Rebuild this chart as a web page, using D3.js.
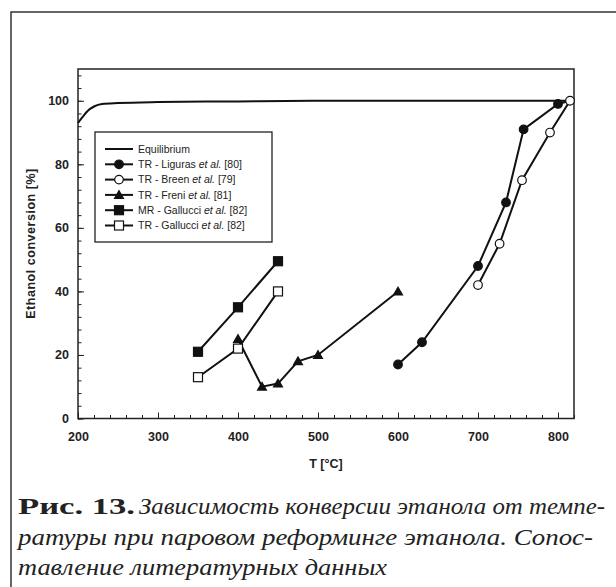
<!DOCTYPE html>
<html lang="ru">
<head>
  <meta charset="UTF-8">
  <script src="https://d3js.org/d3.v7.min.js"></script>
  <title>Ethanol conversion</title>
  <style>
    body { margin: 0; background: #fff; }
    .cap { font-family: "Liberation Serif", "Times New Roman", "DejaVu Serif Condensed", serif; font-stretch: condensed; }
  </style>
</head>
<body>
  <svg id="chart" width="616" height="587"></svg>
  <script>
    // data: [T in °C, conversion in %]
    const equilibrium = [[200, 93], [206, 95], [212, 96.8], [220, 98.2], [230, 99], [250, 99.3], [300, 99.6], [400, 99.8], [500, 100], [815, 100]];
    const liguras = [[600, 17], [630, 24], [700, 48], [735, 68], [757, 91], [800, 99], [815, 100]];
    const breen = [[700, 42], [727, 55], [755, 75], [790, 90], [815, 100]];
    const freni = [[400, 25], [430, 10], [450, 11], [475, 18], [500, 20], [600, 40]];
    const galucciMR = [[350, 21], [400, 35], [450, 49.5]];
    const galucciTR = [[350, 13], [400, 22], [450, 40]];

    const xTicks = [200, 300, 400, 500, 600, 700, 800];
    const yTicks = [0, 20, 40, 60, 80, 100];

    const legendItems = [
      { pre: 'Equilibrium', it: '', post: '', marker: 'none' },
      { pre: 'TR - Liguras ', it: 'et al.', post: ' [80]', marker: 'circleFill' },
      { pre: 'TR - Breen ', it: 'et al.', post: ' [79]', marker: 'circleOpen' },
      { pre: 'TR - Freni ', it: 'et al.', post: ' [81]', marker: 'triangle' },
      { pre: 'MR - Gallucci ', it: 'et al.', post: ' [82]', marker: 'squareFill' },
      { pre: 'TR - Gallucci ', it: 'et al.', post: ' [82]', marker: 'squareOpen' }
    ];

    const svg = d3.select('#chart');
    const m = { left: 78, right: 574, top: 69, bottom: 418.5 };

    const x = d3.scaleLinear().domain([200, 820]).range([m.left, m.right]);
    const y = d3.scaleLinear().domain([0, 110]).range([m.bottom, m.top]);

    // outer frame of the figure
    svg.append('rect')
      .attr('x', 11).attr('y', 12).attr('width', 620).attr('height', 600)
      .attr('fill', 'none').attr('stroke', '#333').attr('stroke-width', 1.5);

    const tickFont = g => g.selectAll('text')
      .attr('font-family', 'Liberation Sans, Arial, sans-serif')
      .attr('font-weight', 'bold').attr('font-size', 12.5).attr('fill', '#222');

    // minor ticks
    svg.append('g').attr('transform', `translate(0,${m.bottom})`)
      .call(d3.axisBottom(x).tickValues(d3.range(200, 821, 20)).tickSize(-3.5).tickFormat(''))
      .call(g => g.select('.domain').remove());
    svg.append('g').attr('transform', `translate(${m.left},0)`)
      .call(d3.axisLeft(y).tickValues(d3.range(0, 110, 4)).tickSize(-3.5).tickFormat(''))
      .call(g => g.select('.domain').remove());

    // major ticks + labels
    svg.append('g').attr('transform', `translate(0,${m.bottom})`)
      .call(d3.axisBottom(x).tickValues(xTicks).tickSize(-6).tickPadding(14))
      .call(g => g.select('.domain').remove())
      .call(tickFont);
    svg.append('g').attr('transform', `translate(${m.left},0)`)
      .call(d3.axisLeft(y).tickValues(yTicks).tickSize(-6).tickPadding(9))
      .call(g => g.select('.domain').remove())
      .call(tickFont);

    svg.selectAll('.tick line').attr('stroke', '#222').attr('stroke-width', 1);

    // plot frame
    svg.append('rect')
      .attr('x', m.left).attr('y', m.top).attr('width', m.right - m.left).attr('height', m.bottom - m.top)
      .attr('fill', 'none').attr('stroke', '#222').attr('stroke-width', 1.5);

    // axis titles
    svg.append('text')
      .attr('x', (m.left + m.right) / 2).attr('y', 468)
      .attr('text-anchor', 'middle')
      .attr('font-family', 'Liberation Sans, Arial, sans-serif')
      .attr('font-weight', 'bold').attr('font-size', 12.5).attr('fill', '#222')
      .text('T [°C]');
    svg.append('text')
      .attr('transform', `translate(35,${(m.top + m.bottom) / 2}) rotate(-90)`)
      .attr('text-anchor', 'middle')
      .attr('font-family', 'Liberation Sans, Arial, sans-serif')
      .attr('font-weight', 'bold').attr('font-size', 12.5).attr('fill', '#222')
      .attr('textLength', 150).attr('lengthAdjust', 'spacing')
      .text('Ethanol conversion [%]');

    const line = d3.line().x(d => x(d[0])).y(d => y(d[1]));
    const curve = d3.line().x(d => x(d[0])).y(d => y(d[1])).curve(d3.curveMonotoneX);

    const drawMarker = (g, type, cx, cy) => {
      if (type === 'circleFill' || type === 'circleOpen') {
        g.append('circle').attr('cx', cx).attr('cy', cy).attr('r', 4.3)
          .attr('fill', type === 'circleFill' ? '#111' : '#fff')
          .attr('stroke', '#111').attr('stroke-width', 1.2);
      } else if (type === 'squareFill' || type === 'squareOpen') {
        g.append('rect').attr('x', cx - 4.5).attr('y', cy - 4.5).attr('width', 9).attr('height', 9)
          .attr('fill', type === 'squareFill' ? '#111' : '#fff')
          .attr('stroke', '#111').attr('stroke-width', 1.2);
      } else if (type === 'triangle') {
        g.append('path')
          .attr('d', `M${cx},${cy - 5.5}L${cx + 5.5},${cy + 4}L${cx - 5.5},${cy + 4}Z`)
          .attr('fill', '#111');
      }
    };

    const plot = svg.append('g');
    plot.append('path').attr('d', curve(equilibrium))
      .attr('fill', 'none').attr('stroke', '#111').attr('stroke-width', 2);

    const series = [
      { data: liguras, marker: 'circleFill', skipLast: true },
      { data: breen, marker: 'circleOpen' },
      { data: freni, marker: 'triangle' },
      { data: galucciMR, marker: 'squareFill' },
      { data: galucciTR, marker: 'squareOpen' }
    ];

    series.forEach(s => {
      plot.append('path').attr('d', line(s.data))
        .attr('fill', 'none').attr('stroke', '#111').attr('stroke-width', 2);
    });
    series.forEach(s => {
      const pts = s.skipLast ? s.data.slice(0, -1) : s.data;
      pts.forEach(d => drawMarker(plot, s.marker, x(d[0]), y(d[1])));
    });

    // legend
    const lg = svg.append('g');
    lg.append('rect').attr('x', 95).attr('y', 132).attr('width', 177).attr('height', 110)
      .attr('fill', '#fff').attr('stroke', '#222').attr('stroke-width', 1.3);
    legendItems.forEach((item, i) => {
      const cy = 149 + i * 15.3;
      lg.append('line').attr('x1', 105).attr('x2', 133).attr('y1', cy).attr('y2', cy)
        .attr('stroke', '#111').attr('stroke-width', 2);
      drawMarker(lg, item.marker, 119, cy);
      const t = lg.append('text').attr('x', 138).attr('y', cy + 3.8)
        .attr('font-family', 'Liberation Sans, Arial, sans-serif')
        .attr('font-size', 10.5).attr('fill', '#222');
      t.append('tspan').text(item.pre);
      if (item.it) {
        t.append('tspan').attr('font-style', 'italic').text(item.it);
        t.append('tspan').text(item.post);
      }
    });

    // caption
    svg.append('text').attr('class', 'cap').attr('x', 18).attr('y', 514)
      .attr('font-weight', 'bold').attr('font-size', 24).attr('fill', '#222')
      .attr('textLength', 117).attr('lengthAdjust', 'spacingAndGlyphs')
      .text('Рис. 13.');
    const captionLines = [
      { text: 'Зависимость конверсии этанола от темпе-', x: 139, y: 514, w: 466 },
      { text: 'ратуры при паровом реформинге этанола. Сопос-', x: 18, y: 545, w: 575 },
      { text: 'тавление литературных данных', x: 18, y: 575, w: 369 }
    ];
    captionLines.forEach(c => {
      svg.append('text').attr('class', 'cap').attr('x', c.x).attr('y', c.y)
        .attr('font-style', 'italic').attr('font-size', 24).attr('fill', '#222')
        .attr('textLength', c.w).attr('lengthAdjust', 'spacingAndGlyphs')
        .text(c.text);
    });
  </script>
</body>
</html>
